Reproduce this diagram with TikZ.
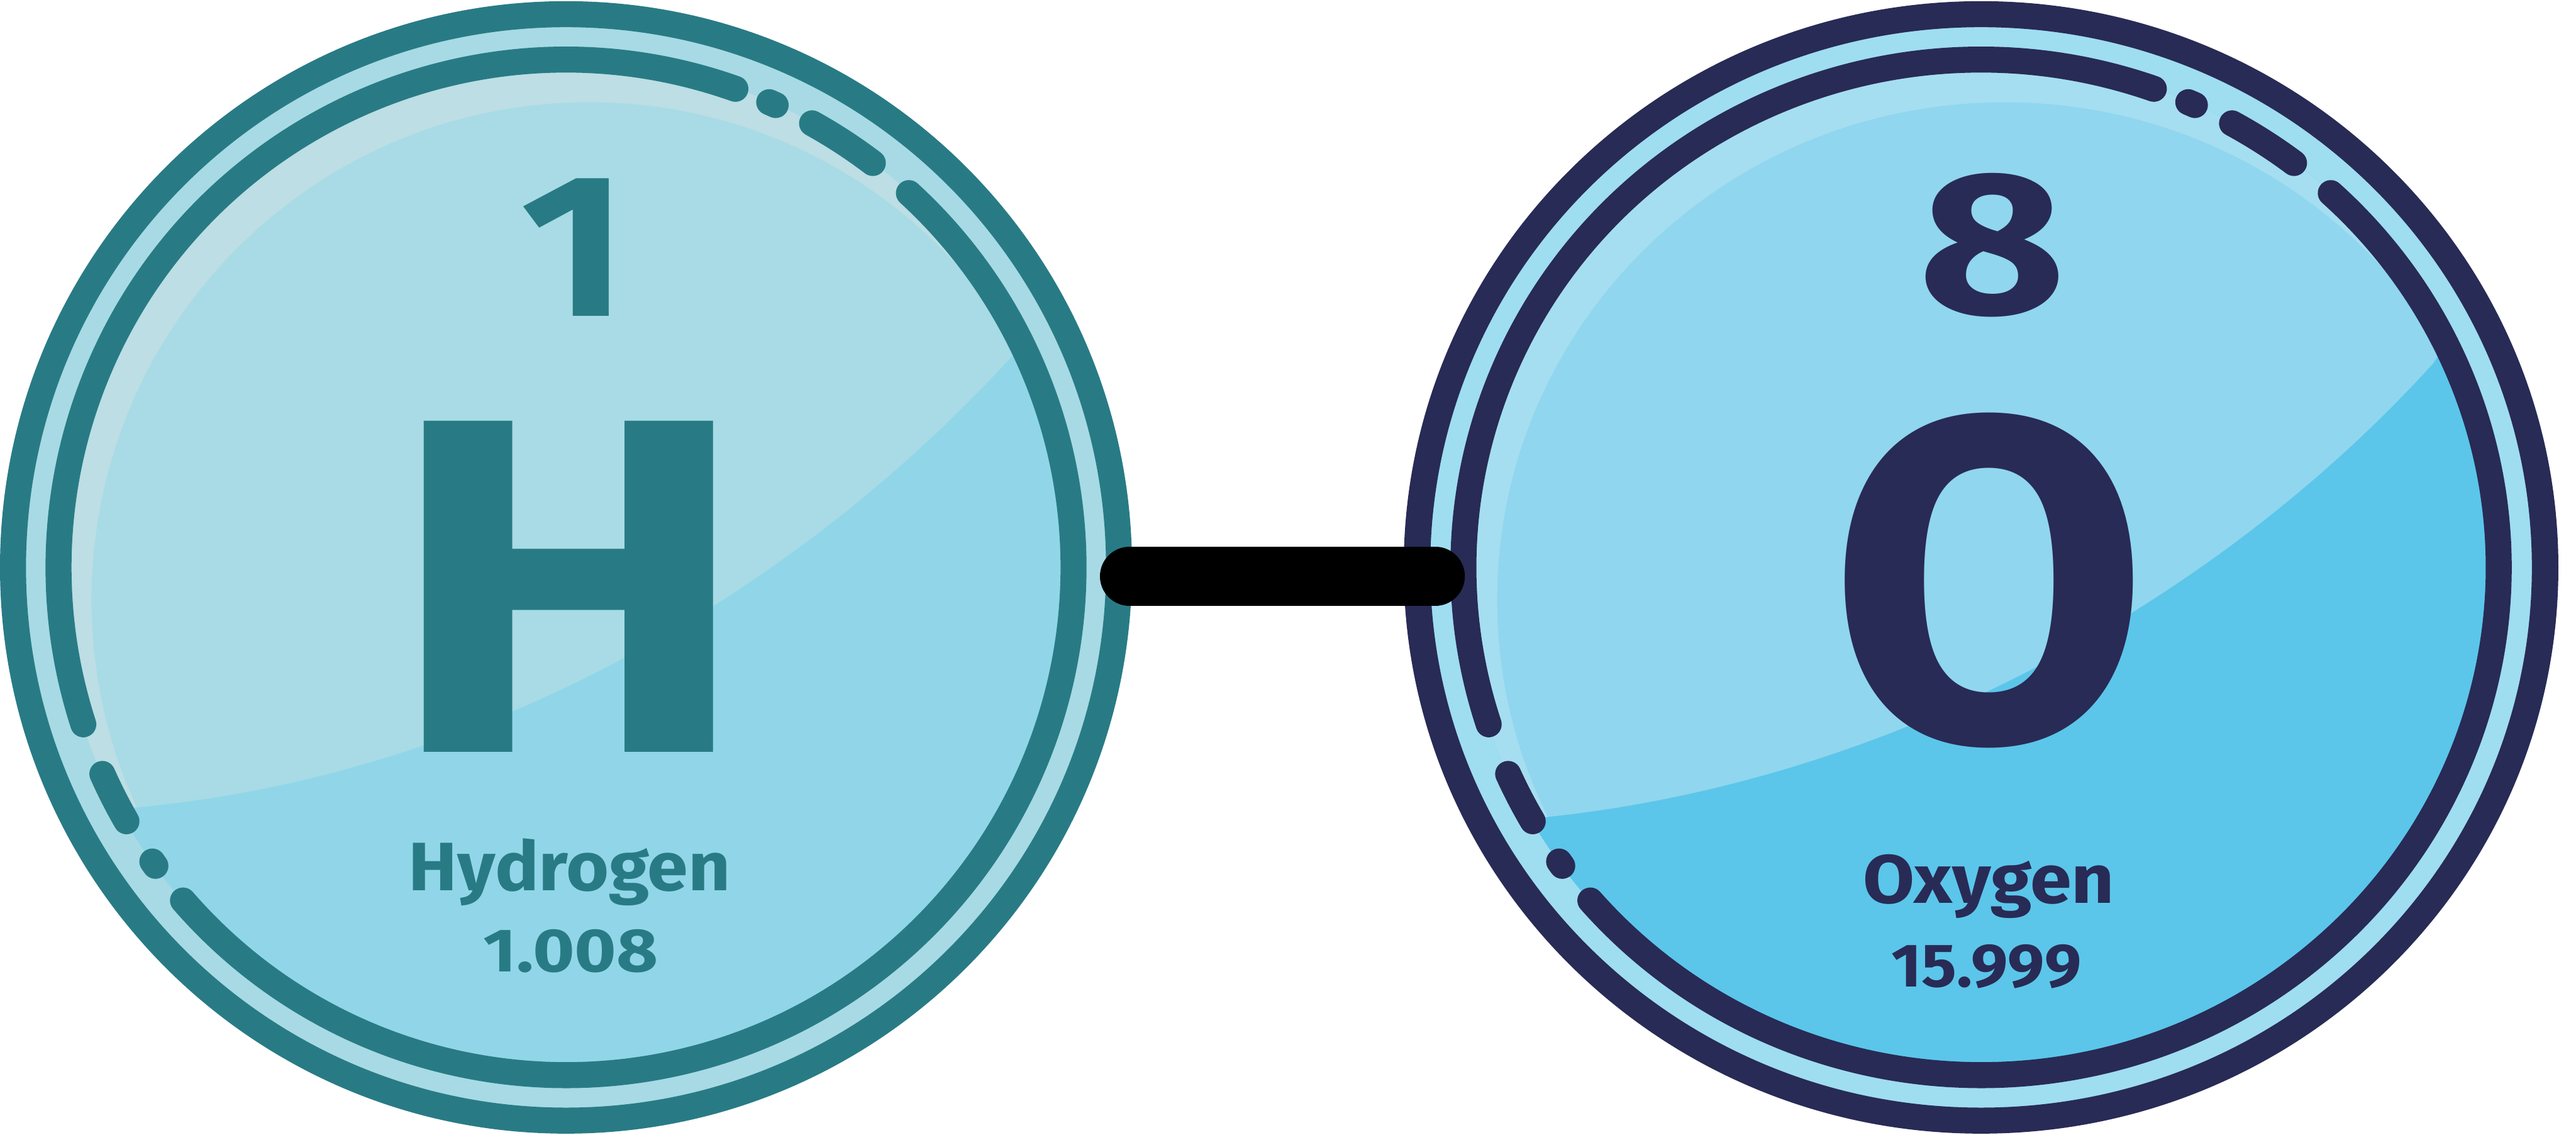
\documentclass[tikz,border=0pt]{standalone}
\usepackage{fontspec}
\setmainfont{Fira Sans}
\usetikzlibrary{calc,positioning}

\definecolor{hring}{HTML}{287B85}
\definecolor{hgap}{HTML}{A7DAE4}
\definecolor{hlow}{HTML}{90D6E8}
\definecolor{hhigh}{HTML}{A8DBE5}
\definecolor{hshine}{HTML}{BCDEE4}
\definecolor{oring}{HTML}{282B55}
\definecolor{ogap}{HTML}{9FDDF1}
\definecolor{olow}{HTML}{5BC6EA}
\definecolor{ohigh}{HTML}{90D6EE}
\definecolor{oshine}{HTML}{A5DEF1}

\begin{document}
\begin{tikzpicture}[
  atom/.style={circle, inner sep=0pt, minimum size=#1},
  innerring/.style={line width=4.4mm, line cap=round},
  bond/.style={line width=10mm, line cap=round, black},
  elnum/.style={inner sep=0pt, font=\bfseries\fontsize{98}{104}\selectfont},
  elsym/.style={inner sep=0pt, font=\bfseries\fontsize{230}{240}\selectfont},
  elname/.style={inner sep=0pt, anchor=base, font=\bfseries\fontsize{33}{36}\selectfont},
  elmass/.style={inner sep=0pt, anchor=base, font=\bfseries\fontsize{29.5}{32}\selectfont},
]
\fill[white] (0,0) rectangle (43.6,19.2);
\useasboundingbox (0,0) rectangle (43.6,19.2);

\node[atom=19.16cm] (hyd) at (9.58,9.60) {};
\node[atom=19.54cm] (oxy) at (33.53,9.60) {};

% hydrogen disc
\begin{scope}[shift={(hyd)}]
  \fill[hgap] (0,0) circle[radius=9.5];
  \begin{scope}
    \clip (0,0) circle[radius=8.6];
    \fill[hlow] (-9,-9) rectangle (9,9);
    \fill[hhigh] (-8.1,-4.12) .. controls (-2.1,-3.82) and (3.6,-0.77) .. (7.6,3.63)
      -- (9.6,6.6) -- (9.6,9.6) -- (-9.6,9.6) -- (-9.6,-4.12) -- cycle;
    \clip (-8.1,-4.12) .. controls (-2.1,-3.82) and (3.6,-0.77) .. (7.6,3.63)
      -- (9.6,6.6) -- (9.6,9.6) -- (-9.6,9.6) -- (-9.6,-4.12) -- cycle;
    \fill[hshine, even odd rule] (0,0) circle[radius=8.6] (0.39,-0.55) circle[radius=8.42];
  \end{scope}
  \fill[hring, even odd rule] (0,0) circle[radius=9.58] circle[radius=9.14];
  \foreach \a/\b in {-139/47.5, 52.8/61, 65.6/66.4, 70.5/198, 204/210, 215.4/216}
    \draw[innerring, hring] (\a:8.59) arc[start angle=\a, end angle=\b, radius=8.59];
\end{scope}

% oxygen disc
\begin{scope}[shift={(oxy)}, xscale=1.02]
  \fill[ogap] (0,0) circle[radius=9.5];
  \begin{scope}
    \clip (0,0) circle[radius=8.6];
    \fill[olow] (-9,-9) rectangle (9,9);
    \fill[ohigh] (-8.1,-4.3) .. controls (-1.8,-3.9) and (3.9,-0.6) .. (7.5,3.45)
      -- (9.6,6.6) -- (9.6,9.6) -- (-9.6,9.6) -- (-9.6,-4.3) -- cycle;
    \clip (-8.1,-4.3) .. controls (-1.8,-3.9) and (3.9,-0.6) .. (7.5,3.45)
      -- (9.6,6.6) -- (9.6,9.6) -- (-9.6,9.6) -- (-9.6,-4.3) -- cycle;
    \fill[oshine, even odd rule] (0,0) circle[radius=8.6] (0.39,-0.55) circle[radius=8.42];
  \end{scope}
  \fill[oring, even odd rule] (0,0) circle[radius=9.58] circle[radius=9.14];
  \foreach \a/\b in {-139/47.5, 52.8/61, 65.6/66.4, 70.5/198, 204/210, 215.4/216}
    \draw[innerring, oring] (\a:8.59) arc[start angle=\a, end angle=\b, radius=8.59];
\end{scope}

\draw[bond, shorten <=-0.5mm, shorten >=-5.4mm] ([yshift=-1.5mm]hyd.east) -- ([yshift=-1.5mm]oxy.west);

\node[elnum, text=hring] (hnum) at ($(hyd)+(0.14,5.42)$) {\scalebox{1.14}[1]{1}};
\node[elsym, text=hring] (hsym) at ($(hyd)+(0.05,-0.32)$) {\scalebox{1.13}[1]{H}};
\node[elname, text=hring] (hname) at ($(hyd)+(0.06,-5.47)$) {\scalebox{1.07}[1]{Hydrogen}};
\node[elmass, text=hring] (hmass) at ($(hyd)+(0.08,-6.84)$) {\scalebox{1.17}[1]{1.008}};

\node[elnum, text=oring] (onum) at ($(oxy)+(0.19,5.45)$) {\scalebox{1.25}[1]{8}};
\node[elsym, text=oring, font=\bfseries\fontsize{222}{232}\selectfont] (osym) at ($(oxy)+(0.14,-0.22)$) {O};
\node[elname, text=oring] (oname) at ($(oxy)+(0.13,-5.68)$) {\scalebox{1.09}[1]{Oxygen}};
\node[elmass, text=oring] (omass) at ($(oxy)+(0.09,-7.10)$) {\scalebox{1.07}[1]{15.999}};

\end{tikzpicture}
\end{document}
